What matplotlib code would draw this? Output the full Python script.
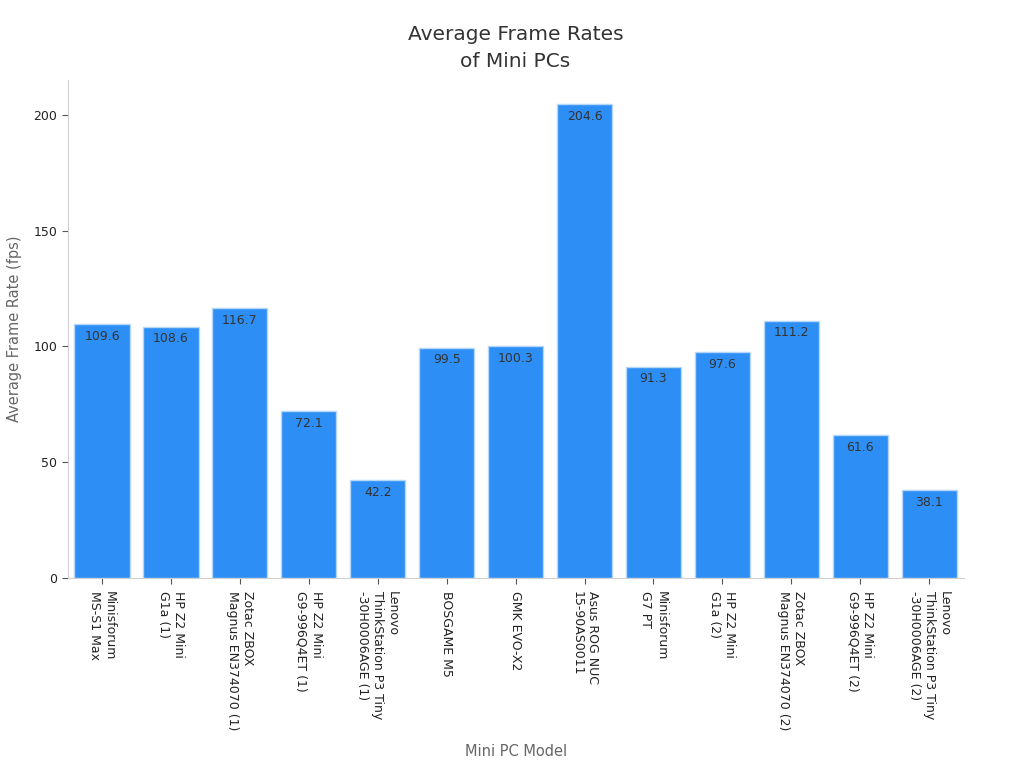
import matplotlib
matplotlib.use('Agg')
from matplotlib import pyplot as plt

models = [
    "Minisforum\nMS-S1 Max",
    "HP Z2 Mini\nG1a (1)",
    "Zotac ZBOX\nMagnus EN374070 (1)",
    "HP Z2 Mini\nG9-996Q4ET (1)",
    "Lenovo\nThinkStation P3 Tiny\n-30H0006AGE (1)",
    "BOSGAME M5",
    "GMK EVO-X2",
    "Asus ROG NUC\n15-90AS0011",
    "Minisforum\nG7 PT",
    "HP Z2 Mini\nG1a (2)",
    "Zotac ZBOX\nMagnus EN374070 (2)",
    "HP Z2 Mini\nG9-996Q4ET (2)",
    "Lenovo\nThinkStation P3 Tiny\n-30H0006AGE (2)",
]
fps = [109.6, 108.6, 116.7, 72.1, 42.2, 99.5, 100.3, 204.6, 91.3, 97.6, 111.2, 61.6, 38.1]


def main():
    fig, ax = plt.subplots(figsize=(10.24, 7.68), dpi=100)
    fig.subplots_adjust(left=0.066, right=0.941, top=0.896, bottom=0.247)

    x = list(range(len(models)))
    bars = ax.bar(x, fps, width=0.8, color='#2d8ff5', edgecolor='#b5d6f7', linewidth=1)

    for b, v in zip(bars, fps):
        ax.text(b.get_x() + b.get_width() / 2, v - 2.5, f"{v:.1f}",
                ha='center', va='top', fontsize=9, color='#333333')

    ax.set_xlim(-0.5, len(models) - 0.5)
    ax.set_ylim(0, 215)
    ax.set_yticks([0, 50, 100, 150, 200])
    ax.set_xticks(x)
    ax.set_xticklabels(models, rotation=-90, fontsize=9, color='#222222',
                       multialignment='left')
    ax.tick_params(axis='y', labelsize=9, colors='#222222')
    ax.tick_params(axis='both', color='#555555', length=4)
    ax.tick_params(axis='x', pad=5)

    for s in ['top', 'right']:
        ax.spines[s].set_visible(False)
    for s in ['left', 'bottom']:
        ax.spines[s].set_color('#d0d0d0')

    ax.set_ylabel("Average Frame Rate (fps)", fontsize=10.5, color='#666666', labelpad=8)
    ax.set_xlabel("Mini PC Model", fontsize=10.5, color='#666666', labelpad=10)
    ax.set_title("Average Frame Rates\nof Mini PCs", fontsize=14.5, color='#333333',
                 pad=9, linespacing=1.55)

    fig.savefig('out.png', dpi=100)


if __name__ == "__main__":
    main()
